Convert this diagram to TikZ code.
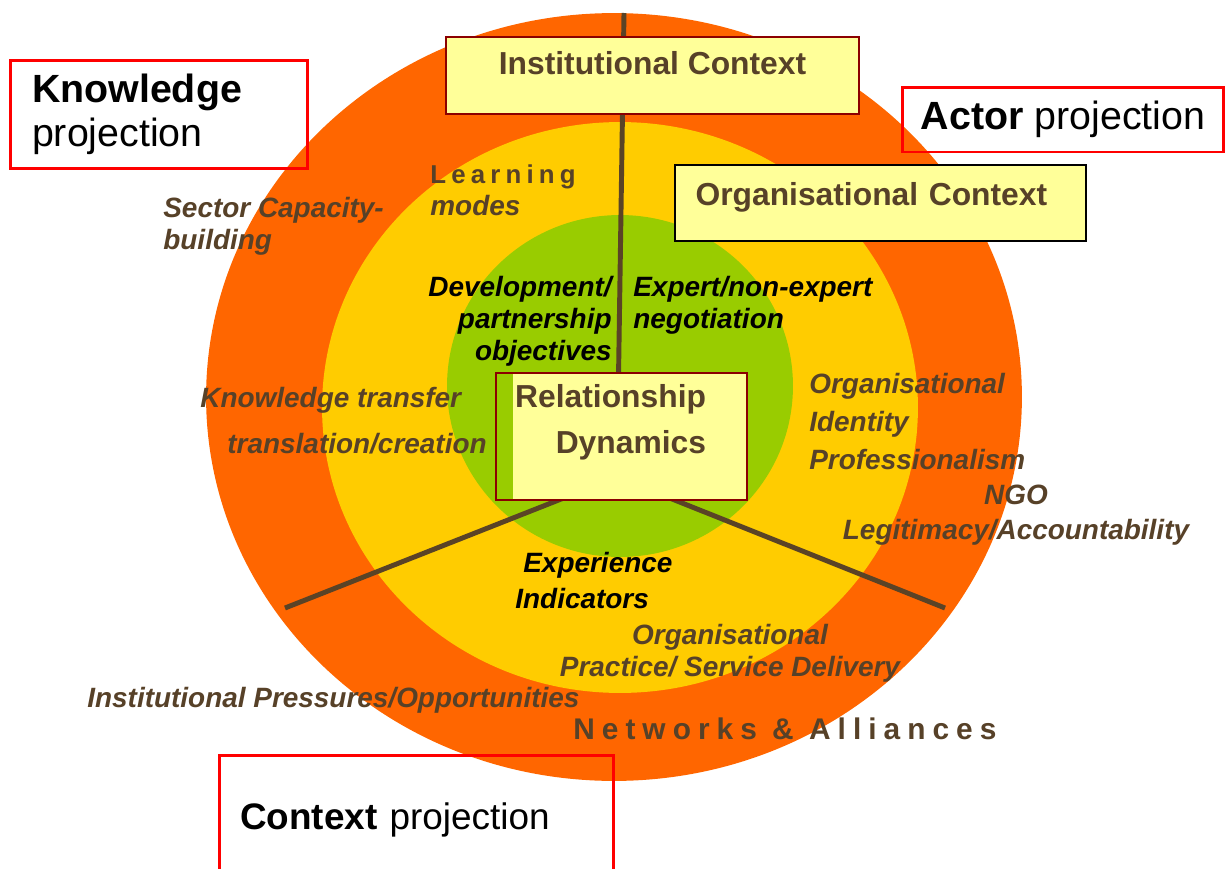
\documentclass[tikz,border=0pt]{standalone}
\usepackage{fontspec}
\setmainfont{Liberation Sans}

\definecolor{ringorange}{HTML}{FF6600}
\definecolor{ringyellow}{HTML}{FFCC00}
\definecolor{ringgreen}{HTML}{99CC00}
\definecolor{boxyellow}{HTML}{FFFF99}
\definecolor{labelbrown}{HTML}{574128}
\definecolor{spokebrown}{HTML}{5A4326}
\definecolor{boxred}{HTML}{8B0000}

\begin{document}
\begin{tikzpicture}[x=0.02cm, y=-0.02cm,
    lbl/.style={inner sep=0pt, text=labelbrown, font=\fontsize{15.9}{18.1}\selectfont\bfseries\itshape},
    keylbl/.style={lbl, text=black},
    spaced/.style={inner sep=0pt, text=labelbrown, font=\fontsize{17}{20}\selectfont\bfseries\addfontfeature{LetterSpace=23.5}},
    spoke/.style={draw=spokebrown, line width=2.8pt},
    ctxbox/.style={draw=boxred, line width=1.1pt, fill=boxyellow, text=labelbrown, font=\fontsize{18.1}{21}\selectfont\bfseries},
    projbox/.style={draw=red, line width=1.7pt, font=\fontsize{22.4}{25}\selectfont}]
  \useasboundingbox (0,0) rectangle (1232,869);

  \fill[ringorange] (614,397) ellipse [x radius=8.16cm, y radius=7.68cm];
  \fill[ringyellow] (620,407.5) ellipse [x radius=5.96cm, y radius=5.71cm];
  \fill[ringgreen] (620,386) ellipse [x radius=3.46cm, y radius=3.42cm];

  \coordinate (hub) at (617,477);
  \coordinate (topend) at (624,13);
  \coordinate (leftend) at (285,608);
  \coordinate (rightend) at (945,608);
  \draw[spoke] (hub) -- (topend);
  \draw[spoke] (hub) -- (leftend);
  \draw[spoke] (hub) -- (rightend);

  \node[ctxbox, minimum width=8.26cm, minimum height=1.54cm, text depth=0.52cm]
    (inst) at (652.5,75.5) {Institutional Context};
  \node[ctxbox, draw=black, minimum height=1.52cm, text depth=0.38cm,
    inner xsep=0.42cm, text width=7.4cm, align=left]
    (orgctx) at (880.5,203) {Organisational Context};
  \node[ctxbox, minimum width=5.02cm, minimum height=2.54cm,
    path picture={\fill[ringgreen] (path picture bounding box.north west)
      rectangle ([xshift=0.34cm]path picture bounding box.south west);}]
    (rel) at (621.5,436.5) {};
  \node[ctxbox, draw=none, fill=none, inner sep=0pt, align=right, anchor=base east]
    (reltxt) at (707,453) {Relationship\\[5pt]Dynamics};

  \node[lbl, align=left, anchor=base west] (learn) at (430,215)
    {{\fontsize{14.7}{18.1}\selectfont\upshape\addfontfeature{LetterSpace=20}Learning}\\modes};
  \node[lbl, align=left, anchor=base west] (sector) at (163,249) {Sector Capacity-\\building};
  \node[keylbl, align=right, anchor=base east] (devobj) at (612,360) {Development/\\partnership\\objectives};
  \node[keylbl, align=left, anchor=base west] (expert) at (633,328) {Expert/non-expert\\negotiation};
  \node[lbl, anchor=base west] (ktrans) at (200,407) {Knowledge transfer};
  \node[lbl, anchor=base east] (kcreate) at (487,453) {translation/creation};
  \node[lbl, align=left, anchor=base west] (orgid) at (809,469)
    {Organisational\\[3.4pt]Identity\\[3.4pt]Professionalism};
  \node[lbl, align=center, anchor=base] (ngo) at (1016,539) {NGO\\[1.7pt]Legitimacy/Accountability};
  \node[keylbl, align=left, anchor=base west] (exper) at (515,608)
    {\hspace*{0.16cm}Experience\\[2.3pt]Indicators};
  \node[lbl, align=center, anchor=base] (orgprac) at (730,676) {Organisational\\Practice/ Service Delivery};
  \node[lbl, anchor=base west] (instpress) at (87,707) {Institutional Pressures/Opportunities};
  \node[spaced, anchor=base west] (networks) at (573,739) {Networks \& Alliances};

  \node[projbox, minimum width=5.96cm, minimum height=2.18cm, inner xsep=0.44cm,
    text width=5.08cm, align=left] (knowproj) at (159,114.5) {\textbf{Knowledge}\\projection};
  \node[projbox, minimum width=6.44cm, minimum height=1.3cm] (actproj) at (1063,119.5)
    {\textbf{Actor} projection};
  \node[projbox, font=\fontsize{21}{24}\selectfont, minimum width=7.9cm, minimum height=2.59cm,
    inner xsep=0.42cm, text width=7.06cm, align=left] (ctxproj) at (416.5,819.75)
    {\textbf{Context} projection};
\end{tikzpicture}
\end{document}
